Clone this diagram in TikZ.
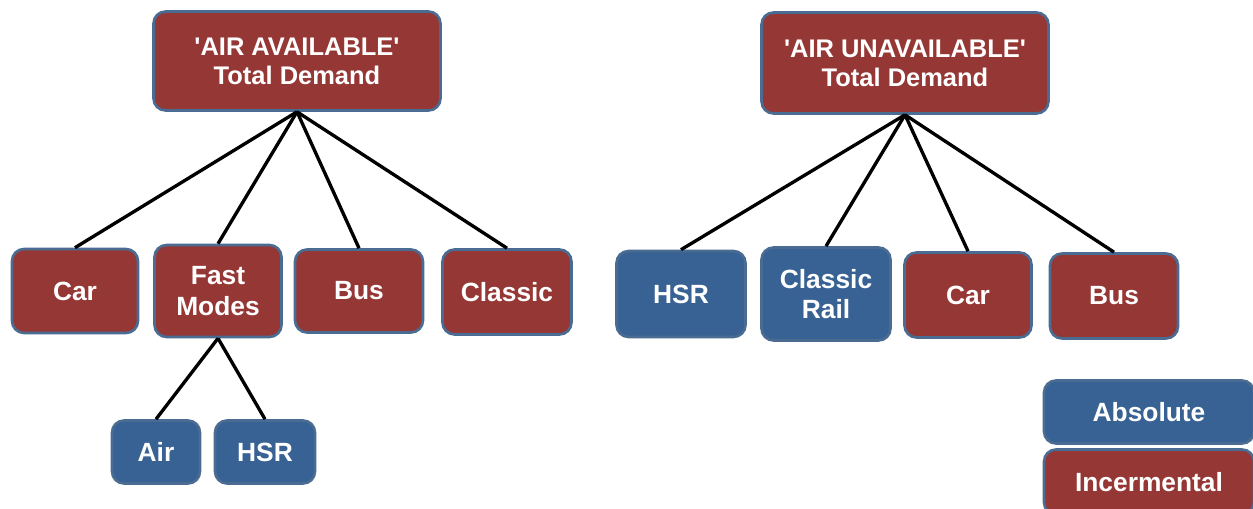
\documentclass[tikz,border=0pt]{standalone}
\usepackage{fontspec}
\setmainfont{Liberation Sans}
\definecolor{demred}{HTML}{953735}
\definecolor{absblue}{HTML}{386293}
\definecolor{rimblue}{HTML}{4A6B92}
\begin{document}
\begin{tikzpicture}[x=0.02cm, y=-0.02cm,
  box/.style={draw=rimblue, line width=1.5pt, rounded corners=0.24cm, text=white,
    font=\fontsize{15}{17.5}\selectfont\bfseries, align=center, inner sep=0pt},
  incr/.style={box, fill=demred},
  absl/.style={box, fill=absblue},
  headbox/.style={incr, minimum width=5.74cm, font=\fontsize{14.5}{16.5}\selectfont\bfseries},
  link/.style={line width=1.9pt, black}]
\useasboundingbox (0,0) rectangle (1253,509);
% air available tree
\node[headbox, minimum height=1.98cm] (availtop) at (297,61) {\textquotesingle AIR AVAILABLE\textquotesingle\\Total Demand};
\node[incr, minimum width=2.52cm, minimum height=1.68cm] (carL) at (75,291) {Car};
\node[incr, minimum width=2.54cm, minimum height=1.84cm] (fast) at (218,291) {Fast\\Modes};
\node[incr, minimum width=2.56cm, minimum height=1.66cm] (busL) at (359,291) {Bus};
\node[incr, minimum width=2.58cm, minimum height=1.70cm] (classic) at (507,292) {Classic};
\node[absl, minimum width=1.76cm, minimum height=1.26cm] (air) at (156,452) {Air};
\node[absl, minimum width=2.0cm, minimum height=1.26cm] (hsrL) at (265,452) {HSR};
% air unavailable tree
\node[headbox, minimum height=2.02cm] (unavtop) at (905,63) {\textquotesingle AIR UNAVAILABLE\textquotesingle\\Total Demand};
\node[absl, minimum width=2.58cm, minimum height=1.72cm] (hsrR) at (681,294) {HSR};
\node[absl, minimum width=2.58cm, minimum height=1.86cm] (rail) at (826,294) {Classic\\Rail};
\node[incr, minimum width=2.54cm, minimum height=1.70cm] (carR) at (968,295) {Car};
\node[incr, minimum width=2.56cm, minimum height=1.70cm] (busR) at (1114,296) {Bus};
% legend
\node[absl, minimum width=4.2cm, minimum height=1.26cm] (legabs) at (1149,412) {Absolute};
\node[incr, minimum width=4.2cm, minimum height=1.3cm] (leginc) at (1149,482) {Incermental};
% links
\foreach \kid in {carL,fast,busL,classic}
  \draw[link] (availtop.south) -- (\kid.north);
\foreach \kid in {air,hsrL}
  \draw[link] (fast.south) -- (\kid.north);
\foreach \kid in {hsrR,rail,carR,busR}
  \draw[link] (unavtop.south) -- (\kid.north);
\end{tikzpicture}
\end{document}
